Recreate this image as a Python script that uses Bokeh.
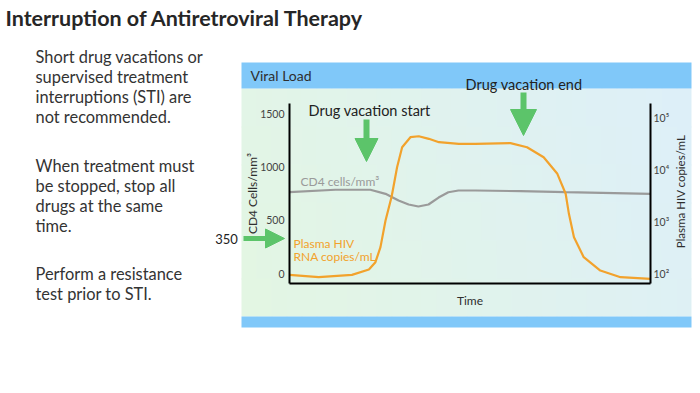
import math
from bokeh.plotting import figure
from bokeh.models import (Range1d, LinearAxis, LogAxis, LogScale, FixedTicker,
                          Label, BoxAnnotation, Arrow, NormalHead)
from bokeh.embed import file_html
from bokeh.resources import INLINE

# ---------------- data ----------------
TITLE = "Interruption of Antiretroviral Therapy"
PARAGRAPHS = [
    ["Short drug vacations or", "supervised treatment", "interruptions (STI) are", "not recommended."],
    ["When treatment must", "be stopped, stop all", "drugs at the same", "time."],
    ["Perform a resistance", "test prior to STI."],
]
PANEL_TITLE = "Viral Load"
EVENT_START = "Drug vacation start"
EVENT_END = "Drug vacation end"
THRESHOLD_LABEL = "350"

CD4_TIME = [0, 12.7, 22.4, 26.6, 30.2, 33.0, 35.7, 38.5, 41.3, 44.0, 46.8, 51.5, 64.0, 76.5, 100]
CD4_VALUES = [762, 785, 785, 747, 684, 647, 628, 647, 712, 762, 778, 778, 772, 762, 747]

HIV_TIME = [0, 8.1, 17.3, 22.0, 23.8, 25.2, 26.6, 28.3, 29.8, 31.2, 33.5, 35.8, 38.6, 41.4,
            46.9, 51.5, 61.2, 65.8, 70.4, 74.2, 76.5, 77.4, 78.8, 81.5, 86.1, 91.7, 100]
HIV_VALUES = [94, 85, 94, 119, 165, 321, 1045, 3030, 11070, 26850, 41780, 43650, 38900, 33500,
              31200, 31200, 32100, 26850, 17250, 8260, 3410, 1406, 499, 206, 114, 85, 79]

CD4_TICKS = [0, 500, 1000, 1500]
HIV_TICKS = [100, 1000, 10000, 100000]
HIV_TICK_LABELS = ["10\u00b2", "10\u00b3", "10\u2074", "10\u2075"]

# ---------------- layout helpers ----------------
W, H = 700, 393
OFF = 0


def sx(X):
    return X - OFF


def sy(Y):
    return H - (Y - OFF)


# chart box (picture pixel coords)
CX0, CX1 = 289, 650
CY_TOP, CY_BOT = 103, 283
Y0_PIX, Y1500_PIX = 273, 113
PX_PER_UNIT_X = (CX1 - CX0) / 100.0
PX_PER_CD4 = (Y0_PIX - Y1500_PIX) / 1500.0
LOG_BASE_PIX, PX_PER_DECADE = 273, 52.0


def cd4_at(Y):
    return (Y0_PIX - Y) / PX_PER_CD4


def log_at(Y):
    return 10 ** (2 + (LOG_BASE_PIX - Y) / PX_PER_DECADE)


x_start = (OFF - CX0) / PX_PER_UNIT_X
x_end = (OFF + W - CX0) / PX_PER_UNIT_X

p = figure(width=W, height=H, output_backend="svg", toolbar_location=None,
           x_axis_type=None, y_axis_type=None, min_border=0,
           x_range=Range1d(x_start, x_end),
           y_range=Range1d(cd4_at(OFF + H), cd4_at(OFF)))
p.extra_y_ranges = {"log": Range1d(log_at(OFF + H), log_at(OFF))}
p.extra_y_scales = {"log": LogScale()}
p.outline_line_color = None
p.background_fill_color = "white"
p.border_fill_color = "white"
p.xgrid.visible = False
p.ygrid.visible = False

FONT = "Lato"
GREEN = "#5cc46a"
ORANGE = "#f2a22c"
GRAY = "#9a9a9a"
DARK = "#2e2e2e"

# ---------------- panel background ----------------
PX0, PX1, PY0, PY1 = 241, 691, 88, 316
c0 = (227, 246, 226)
c1 = (221, 239, 249)
ncol, nrow = 30, 6
cw = (PX1 - PX0) / ncol
rh = (PY1 - PY0) / nrow
for i in range(ncol):
    for j in range(nrow):
        u = (i + 0.5) / ncol
        v = (j + 0.5) / nrow
        t = min(1, max(0, 0.8 * u + 0.2 * (1 - v)))
        col = tuple(int(round(a + (b - a) * t)) for a, b in zip(c0, c1))
        X0 = PX0 + i * cw
        Y0 = PY0 + j * rh
        X1 = min(PX1, X0 + cw + 1)
        Y1 = min(PY1, Y0 + rh + 1)
        p.add_layout(BoxAnnotation(left=sx(X0), right=sx(X1), top=sy(Y0), bottom=sy(Y1),
                                   left_units="screen", right_units="screen",
                                   top_units="screen", bottom_units="screen",
                                   fill_color="#%02x%02x%02x" % col, fill_alpha=1,
                                   line_color=None, level="underlay"))

BAND = "#80c8f9"
p.add_layout(BoxAnnotation(left=sx(PX0), right=sx(PX1), top=sy(62), bottom=sy(88),
                           left_units="screen", right_units="screen",
                           top_units="screen", bottom_units="screen",
                           fill_color=BAND, fill_alpha=1, line_color=None, level="underlay"))
p.add_layout(BoxAnnotation(left=sx(PX0), right=sx(PX1), top=sy(316), bottom=sy(327),
                           left_units="screen", right_units="screen",
                           top_units="screen", bottom_units="screen",
                           fill_color=BAND, fill_alpha=1, line_color=None, level="underlay"))

# ---------------- data lines ----------------
p.line(CD4_TIME, CD4_VALUES, line_color=GRAY, line_width=2.2)
p.line(HIV_TIME, HIV_VALUES, line_color=ORANGE, line_width=2.2, y_range_name="log")

# ---------------- axes ----------------
left = LinearAxis(fixed_location=0, bounds=(cd4_at(CY_BOT), cd4_at(CY_TOP)),
                  ticker=FixedTicker(ticks=CD4_TICKS),
                  axis_line_color="black", axis_line_width=2,
                  major_tick_in=0, major_tick_out=0, minor_tick_in=0, minor_tick_out=0,
                  major_label_standoff=5, major_label_text_font=FONT,
                  major_label_text_font_size="10.5px", major_label_text_color="#444",
                  axis_label="CD4 Cells/mm\u00b3", axis_label_text_font=FONT,
                  axis_label_text_font_size="12px", axis_label_text_font_style="normal",
                  axis_label_text_color=DARK, axis_label_standoff=-3)
p.add_layout(left, "left")

right = LogAxis(y_range_name="log", fixed_location=100,
                bounds=(log_at(CY_BOT), log_at(CY_TOP)),
                ticker=FixedTicker(ticks=HIV_TICKS),
                major_label_overrides=dict(zip(HIV_TICKS, HIV_TICK_LABELS)),
                axis_line_color="black", axis_line_width=2,
                major_tick_in=0, major_tick_out=0, minor_tick_in=0, minor_tick_out=0,
                major_label_standoff=3, major_label_text_font=FONT,
                major_label_text_font_size="10.5px", major_label_text_color="#444")
p.add_layout(right, "right")

bottom = LinearAxis(fixed_location=cd4_at(CY_BOT), bounds=(0, 100),
                    ticker=FixedTicker(ticks=[]),
                    axis_line_color="black", axis_line_width=2,
                    major_tick_in=0, major_tick_out=0, minor_tick_in=0, minor_tick_out=0,
                    major_label_text_font_size="0px",
                    axis_label="Time", axis_label_text_font=FONT,
                    axis_label_text_font_size="12px", axis_label_text_font_style="normal",
                    axis_label_text_color=DARK, axis_label_standoff=9)
p.add_layout(bottom, "below")


# ---------------- texts ----------------
def label(X, Y, text, size, color=DARK, align="left", style="normal", angle=0):
    p.add_layout(Label(x=sx(X), y=sy(Y), x_units="screen", y_units="screen", text=text,
                       text_font=FONT, text_font_size=size, text_color=color,
                       text_align=align, text_baseline="middle", text_font_style=style,
                       angle=angle))


label(5, 17, TITLE, "21.5px", color="#262626", style="bold")
para_y = [[56, 76, 96, 116], [165, 185, 205, 225], [273, 293]]
for lines, ys in zip(PARAGRAPHS, para_y):
    for txt, yy in zip(lines, ys):
        label(35, yy, txt, "16.4px", color="#333333")

label(250, 75, PANEL_TITLE, "14px")
label(308, 110, EVENT_START, "14.5px", color="#222222")
label(465, 84, EVENT_END, "14.5px", color="#222222")
label(226, 238, THRESHOLD_LABEL, "13px", align="center", color="#222222")
label(300, 181, "CD4 cells/mm\u00b3", "12px", color=GRAY)
label(293, 243, "Plasma HIV", "12px", color=ORANGE)
label(293, 256, "RNA copies/mL", "12px", color=ORANGE)
label(680, 191, "Plasma HIV copies/mL", "11.5px", align="center", angle=math.pi / 2)


# ---------------- arrows ----------------
def arrow(X0, Y0, X1, Y1, head, width):
    p.add_layout(Arrow(x_start=sx(X0), y_start=sy(Y0), x_end=sx(X1), y_end=sy(Y1),
                       start_units="screen", end_units="screen",
                       line_color=GREEN, line_width=width,
                       end=NormalHead(size=head, fill_color=GREEN, line_color=GREEN, line_width=1)))


arrow(366, 119, 366, 161, 23, 6)
arrow(523, 92, 523, 135, 26, 6)
arrow(243, 238, 284, 238, 19, 5)

open("out.html", "w").write(file_html(p, INLINE))
